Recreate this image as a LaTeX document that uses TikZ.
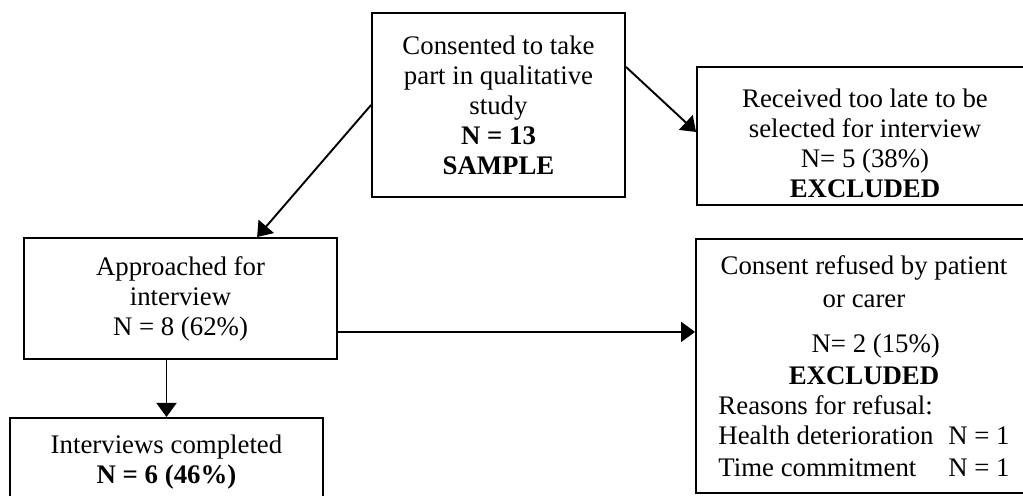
\documentclass[tikz,border=0pt]{standalone}
\usepackage{fontspec}
\setmainfont{Liberation Serif}
\usetikzlibrary{arrows.meta}

\begin{document}
\begin{tikzpicture}[x=0.47pt, y=-0.47pt]
		% Define the styles for boxes and arrows
		\tikzstyle{box}=[draw, line width=0.9pt, align=center, inner sep=0pt,
		font=\fontsize{12.6}{14.1}\selectfont]
		\tikzstyle{arr}=[-{Triangle[length=6.6pt, width=9.4pt]}, line width=0.9pt]
		
		% Frame of the picture, the right boxes run past it
		\useasboundingbox (0,0) rectangle (1023,495);
		\clip (0,0) rectangle (1023,495);
		
		% Boxes with their texts
		\node[box, minimum width=118.9pt, minimum height=86.5pt] (sample) at (498.5,105)
		{Consented to take\\ part in qualitative\\ study\\ \textbf{N = 13}\\ \textbf{SAMPLE}};
		\node[box, minimum width=157.9pt, minimum height=64.9pt] (late) at (865,136)
		{\rule{0pt}{16pt}Received too late to be\\ selected for interview\\ N= 5 (38\%)\\
		\textbf{EXCLUDED}};
		\node[box, minimum width=147.1pt, minimum height=56.9pt] (approached) at (180.5,298.5)
		{Approached for\\ interview\\ N = 8 (62\%)};
		\node[box, minimum width=147.1pt, minimum height=41.4pt] (completed) at (166.5,462)
		{Interviews completed\\ \textbf{N = 6 (46\%)}};
		\node[box, minimum width=157.9pt, minimum height=119.4pt] (refused) at (864,366)
		{Consent refused by patient\\[1.4pt] or carer\\[7pt] \hspace*{11pt}N= 2 (15\%)\\[0.9pt]
		\textbf{EXCLUDED}\\ \makebox[136.8pt][l]{Reasons for refusal:}\\
		\makebox[136.8pt]{Health deterioration\hfill N = 1}\\[0.9pt]
		\makebox[136.8pt]{Time commitment\hfill N = 1}};
		
		% Draw the arrows
		\draw[arr] (sample.west) -- ([xshift=36pt]approached.north);
		\draw[arr] ([yshift=17.9pt]sample.east) -- ([yshift=1.9pt]late.west);
		\draw[arr] (approached.south -| completed.north) -- (completed.north);
		\draw[arr] ([yshift=-15.7pt]approached.east) -- ([yshift=-15.7pt]approached.east -| refused.west);
	\end{tikzpicture}
\end{document}
